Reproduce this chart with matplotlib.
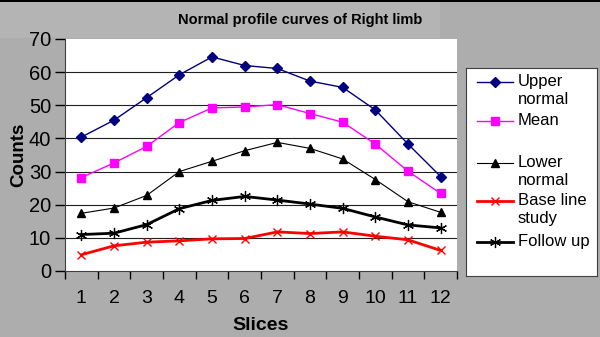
import numpy as np
import matplotlib
matplotlib.use('Agg')
import matplotlib.pyplot as plt
from matplotlib.patches import Rectangle

plt.rcParams['font.family'] = ['Liberation Sans', 'DejaVu Sans']

slices = np.arange(1, 13)
upper = [40.4, 45.5, 52.3, 59.2, 64.6, 62.0, 61.1, 57.3, 55.4, 48.6, 38.3, 28.5]
mean = [28.2, 32.6, 37.6, 44.8, 49.2, 49.5, 50.2, 47.5, 44.9, 38.3, 30.1, 23.4]
lower = [17.4, 19.0, 22.8, 30.0, 33.1, 36.3, 38.8, 37.0, 33.8, 27.6, 20.9, 17.7]
baseline = [4.9, 7.6, 8.7, 9.1, 9.7, 9.8, 11.8, 11.3, 11.8, 10.5, 9.4, 6.2]
followup = [11.0, 11.4, 14.0, 18.8, 21.3, 22.5, 21.4, 20.2, 18.9, 16.3, 13.9, 13.0]

labels = ['Upper\nnormal', 'Mean', 'Lower\nnormal', 'Base line\nstudy', 'Follow up']
series = [upper, mean, lower, baseline, followup]
styles = [
    dict(color='#000080', lw=1.0, marker='D', ms=5, mfc='#000080', mec='#000080'),
    dict(color='#ff00ff', lw=1.0, marker='s', ms=5.5, mfc='#ff00ff', mec='#ff00ff'),
    dict(color='black', lw=0.8, marker='^', ms=6, mfc='black', mec='black'),
    dict(color='#ff0000', lw=2.0, marker='x', ms=6, mew=1.0, mec='#ff0000'),
    dict(color='black', lw=2.0, marker=(6, 2, 0), ms=8, mew=0.9, mec='black'),
]

W, H = 600, 337
fig = plt.figure(figsize=(6, 3.37), dpi=100, facecolor='#adadad')
# slightly lighter band behind the title
fig.patches.append(Rectangle((0, 1 - 38 / H), 440 / W, 36 / H, transform=fig.transFigure,
                             facecolor='#b4b4b4', edgecolor='none', zorder=-10))
fig.patches.append(Rectangle((0, 1 - 2 / H), 1, 2 / H, transform=fig.transFigure,
                             facecolor='black', edgecolor='none', zorder=-9))

ax = fig.add_axes([65 / W, 1 - 271 / H, 392 / W, 232 / H])
ax.set_facecolor('white')
for s, st in zip(series, styles):
    ax.plot(slices, s, **st, zorder=3)

ax.set_xlim(0.5, 12.5)
ax.set_ylim(0, 70)
ax.set_yticks(np.arange(0, 71, 10))
for yv in range(10, 70, 10):
    ax.axhline(yv, color='#202020', lw=0.8, zorder=1)
ax.set_xticks(np.arange(0.5, 12.6, 1))
ax.set_xticklabels([])
ax.set_xticks(slices, minor=True)
ax.set_xticklabels([str(i) for i in slices], minor=True, fontsize=14)
ax.tick_params(axis='x', which='minor', length=0, pad=14)
ax.tick_params(axis='x', which='major', length=6, width=1, direction='out')
ax.tick_params(axis='y', length=7, width=1, direction='out', labelsize=14.5, pad=3)
for sp in ['top', 'right']:
    ax.spines[sp].set_visible(False)
ax.spines['left'].set_color('#404040')
ax.spines['bottom'].set_color('#404040')
ax.set_xlabel('Slices', fontsize=14, fontweight='bold', labelpad=7)
ax.set_ylabel('Counts', fontsize=13.5, fontweight='bold', labelpad=1)

fig.text(300 / W, 1 - 20 / H, 'Normal profile curves of Right limb',
         ha='center', va='center', fontsize=10.5, fontweight='bold')

# legend box
lax = fig.add_axes([466 / W, 1 - 276 / H, 131 / W, 208 / H])
lax.set_xlim(466, 597)
lax.set_ylim(276, 68)
lax.set_xticks([])
lax.set_yticks([])
lax.set_facecolor('white')
for sp in lax.spines.values():
    sp.set_color('#404040')
ys = [82, 121, 163, 201, 242]
for y, lab, st in zip(ys, labels, styles):
    lax.plot([477, 495, 513], [y, y, y], markevery=[1], **st)
    lax.text(518, y - 8, lab, ha='left', va='top', fontsize=12, linespacing=1.25)

fig.savefig('out.png', dpi=100, facecolor=fig.get_facecolor())
